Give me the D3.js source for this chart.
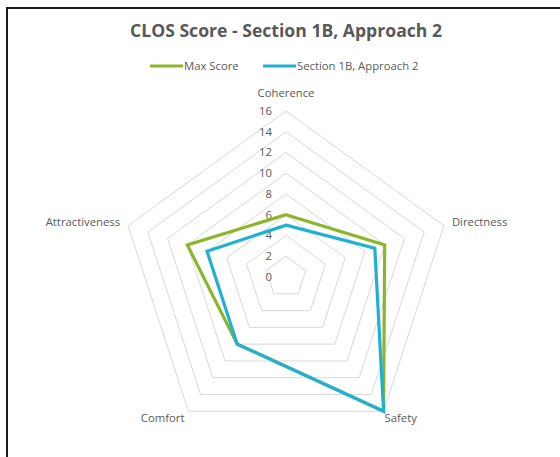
<!DOCTYPE html>
<html><head><meta charset="utf-8">
<script src="https://cdn.jsdelivr.net/npm/d3@7"></script>
<style>body{margin:0;background:#fff}svg{display:block}</style>
</head><body>
<svg id="c" width="560" height="457"></svg>
<script>
const categories = ["Coherence","Directness","Safety","Comfort","Attractiveness"];
const maxScore = [6,10,16,8,10];
const section = [5,9,16,8,8];
const tickValues = [0,2,4,6,8,10,12,14,16];
const seriesNames = ["Max Score","Section 1B, Approach 2"];
const colors = ["#8cb52a","#1fb0d3"];

const svg = d3.select("#c");
const font = "'Open Sans', 'Noto Sans', sans-serif";
const fs = 11.3;
// frame
svg.append("path").attr("d","M7,457 V8 H560").attr("fill","none").attr("stroke","#1a1a1a").attr("stroke-width",2);

const cx = 286, cy = 277, R = 166;
const r = d3.scaleLinear().domain([0,16]).range([0,R]);
const ang = d3.scalePoint().domain(categories).range([0, 2*Math.PI*4/5]);
const pt = (c,v)=>[cx + r(v)*Math.sin(ang(c)), cy - r(v)*Math.cos(ang(c))];

const grid = svg.append("g");
tickValues.slice(1).forEach(t=>{
  grid.append("path")
    .attr("d", d3.line()(categories.map(c=>pt(c,t))) + "Z")
    .attr("fill","none").attr("stroke","#d9d9d9").attr("stroke-width",1);
});
// tick labels
svg.append("g").selectAll("text").data(tickValues).join("text")
  .attr("x", cx-14).attr("y", d=>cy - r(d)).attr("dy","0.35em")
  .attr("text-anchor","end").attr("font-family",font).attr("font-size",fs).attr("fill","#595959")
  .text(d=>d);

// series
const line = d3.line();
[maxScore, section].forEach((s,i)=>{
  svg.append("path")
    .attr("d", line(categories.map((c,j)=>pt(c,s[j]))) + "Z")
    .attr("fill","none").attr("stroke",colors[i]).attr("stroke-width",3.2).attr("stroke-linejoin","miter");
});

// category labels
const labelPos = {
  "Coherence":{dx:0,dy:-18,anchor:"middle"},
  "Directness":{dx:8,dy:-4,anchor:"start"},
  "Safety":{dx:1,dy:7,anchor:"start"},
  "Comfort":{dx:-4,dy:7,anchor:"end"},
  "Attractiveness":{dx:-8,dy:-4,anchor:"end"}
};
svg.append("g").selectAll("text").data(categories).join("text")
  .attr("x", c=>pt(c,16)[0]+labelPos[c].dx)
  .attr("y", c=>pt(c,16)[1]+labelPos[c].dy).attr("dy","0.35em")
  .attr("text-anchor", c=>labelPos[c].anchor)
  .attr("font-family",font).attr("font-size",fs).attr("fill","#595959")
  .text(c=>c);

// title
svg.append("text").attr("x",286).attr("y",37).attr("text-anchor","middle")
  .attr("font-family",font).attr("font-size",17.6).attr("font-weight","bold").attr("fill","#595959")
  .text("CLOS Score - Section 1B, Approach 2");

// legend
const lg = svg.append("g");
const legX = [150, 263];
seriesNames.forEach((n,i)=>{
  lg.append("line").attr("x1",legX[i]).attr("x2",legX[i]+33).attr("y1",66).attr("y2",66)
    .attr("stroke",colors[i]).attr("stroke-width",3.2);
  lg.append("text").attr("x",legX[i]+34).attr("y",66).attr("dy","0.35em")
    .attr("font-family",font).attr("font-size",fs).attr("fill","#595959").text(n);
});
</script>
</body></html>
